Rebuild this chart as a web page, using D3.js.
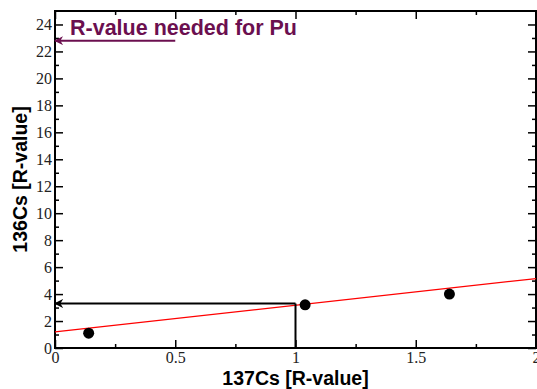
<!DOCTYPE html>
<html lang="en">
<head>
<meta charset="utf-8">
<title>R-value</title>
<script src="https://cdn.jsdelivr.net/npm/d3@7"></script>
<style>
  body { margin: 0; background: #fff; }
  .lbl { font-family: "Liberation Sans", Arial, sans-serif; font-weight: bold; }
</style>
</head>
<body>
<div id="chart"></div>
<script>
// data
var pointsX = [0.14, 1.04, 1.64];
var pointsY = [1.1, 3.2, 4.0];
var fitX = [0, 2];
var fitY = [1.2, 5.15];
var neededX = 1.0;   // 137Cs R-value
var neededY = 3.3;   // 136Cs R-value read from the fit
var puArrowY = 22.8;
var puArrowX = [0.5, 0];
var xMajor = [0, 0.5, 1, 1.5, 2];
var xMinor = [0.25, 0.75, 1.25, 1.75];
var yMajor = d3.range(0, 25, 2);
var yMinor = d3.range(1, 25, 2);

var width = 537, height = 389;
var m = {left: 55, right: 1, top: 11, bottom: 41};

var svg = d3.select("#chart").append("svg")
  .attr("width", width).attr("height", height);

var defs = svg.append("defs");
function arrowHead(id, color) {
  defs.append("marker")
    .attr("id", id).attr("viewBox", "0 0 10 10")
    .attr("refX", 9).attr("refY", 5)
    .attr("markerWidth", 4.5).attr("markerHeight", 4.5)
    .attr("markerUnits", "strokeWidth")
    .attr("orient", "auto")
    .append("path").attr("d", "M0,0 L10,5 L0,10 L3,5 Z").attr("fill", color);
}
arrowHead("blk", "#000");
arrowHead("pur", "#6b0f4f");

var x = d3.scaleLinear().domain([0, 2]).range([m.left, width - m.right]);
var y = d3.scaleLinear().domain([0, 25]).range([height - m.bottom, m.top]);

// frame
svg.append("rect")
  .attr("x", x(0)).attr("y", y(25))
  .attr("width", x(2) - x(0)).attr("height", y(0) - y(25))
  .attr("fill", "none").attr("stroke", "#000").attr("stroke-width", 2);

// axes, ticks pointing inside
function noDomain(s) { s.select(".domain").remove(); }
var g = svg.append("g");
g.append("g").attr("transform", "translate(0," + y(0) + ")")
  .call(d3.axisBottom(x).tickValues(xMajor).tickSize(-8).tickPadding(4)
        .tickFormat(function(d) { return d; }))
  .call(noDomain);
g.append("g").attr("transform", "translate(0," + y(0) + ")")
  .call(d3.axisBottom(x).tickValues(xMinor).tickSize(-4).tickFormat(""))
  .call(noDomain);
g.append("g").attr("transform", "translate(0," + y(25) + ")")
  .call(d3.axisTop(x).tickValues(xMajor).tickSize(-8).tickFormat(""))
  .call(noDomain);
g.append("g").attr("transform", "translate(0," + y(25) + ")")
  .call(d3.axisTop(x).tickValues(xMinor).tickSize(-4).tickFormat(""))
  .call(noDomain);

g.append("g").attr("transform", "translate(" + x(0) + ",0)")
  .call(d3.axisLeft(y).tickValues(yMajor).tickSize(-8).tickPadding(3))
  .call(noDomain);
g.append("g").attr("transform", "translate(" + x(0) + ",0)")
  .call(d3.axisLeft(y).tickValues(yMinor).tickSize(-4).tickFormat(""))
  .call(noDomain);
g.append("g").attr("transform", "translate(" + x(2) + ",0)")
  .call(d3.axisRight(y).tickValues(yMajor).tickSize(-8).tickFormat(""))
  .call(noDomain);
g.append("g").attr("transform", "translate(" + x(2) + ",0)")
  .call(d3.axisRight(y).tickValues(yMinor).tickSize(-4).tickFormat(""))
  .call(noDomain);
g.selectAll(".tick line").attr("stroke", "#000").attr("stroke-width", 1.5);
g.selectAll(".tick text")
  .style("font-family", "'Liberation Serif', 'Times New Roman', 'DejaVu Serif', serif")
  .style("font-size", "16px")
  .style("fill", "#222");

// fit line
var line = d3.line().x(function(d) { return x(d[0]); }).y(function(d) { return y(d[1]); });
svg.append("path")
  .datum(d3.zip(fitX, fitY))
  .attr("d", line)
  .attr("fill", "none").attr("stroke", "#ff0000").attr("stroke-width", 1.3);

// lookup lines
svg.append("path")
  .datum([[neededX, 0], [neededX, neededY]])
  .attr("d", line).attr("fill", "none").attr("stroke", "#000").attr("stroke-width", 2);
svg.append("path")
  .datum([[neededX, neededY], [0, neededY]])
  .attr("d", line).attr("fill", "none").attr("stroke", "#000").attr("stroke-width", 2)
  .attr("marker-end", "url(#blk)");

// points
svg.selectAll(".pt")
  .data(d3.zip(pointsX, pointsY))
  .enter().append("circle")
  .attr("class", "pt")
  .attr("cx", function(d) { return x(d[0]); })
  .attr("cy", function(d) { return y(d[1]); })
  .attr("r", 5.5).attr("fill", "#000");

// Pu annotation
svg.append("path")
  .datum([[puArrowX[0], puArrowY], [puArrowX[1], puArrowY]])
  .attr("d", line).attr("fill", "none").attr("stroke", "#6b0f4f").attr("stroke-width", 2)
  .attr("marker-end", "url(#pur)");
svg.append("text").attr("class", "lbl")
  .attr("x", 70).attr("y", 35)
  .attr("font-size", 21.5)
  .attr("fill", "#6b0f4f")
  .text("R-value needed for Pu");

// axis titles
svg.append("text").attr("class", "lbl")
  .attr("x", x(1)).attr("y", 385)
  .attr("font-size", 19.5)
  .attr("text-anchor", "middle")
  .text("137Cs [R-value]");
svg.append("text").attr("class", "lbl")
  .attr("transform", "translate(27," + ((y(0) + y(25)) / 2) + ") rotate(-90)")
  .attr("font-size", 19.5)
  .attr("text-anchor", "middle")
  .text("136Cs [R-value]");
</script>
</body>
</html>
